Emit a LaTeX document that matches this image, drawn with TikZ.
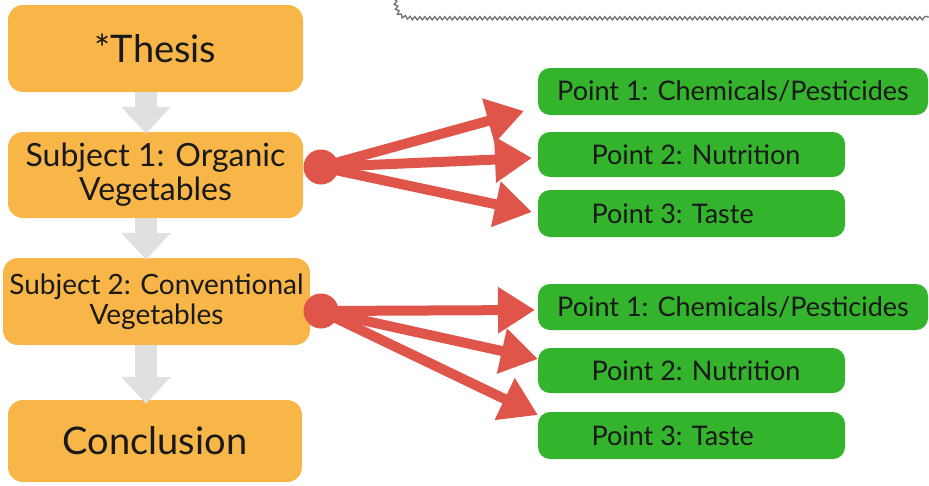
\documentclass[tikz,border=0pt]{standalone}
\usepackage{fontspec}
\setmainfont{Lato}
\usetikzlibrary{arrows.meta,decorations.pathmorphing}
\definecolor{orng}{HTML}{F9B648}
\definecolor{grn}{HTML}{34B32C}
\definecolor{rd}{HTML}{E0554A}
\definecolor{gry}{HTML}{E0E0E0}
\definecolor{wave}{HTML}{707070}
\newcommand{\lefttxt}[1]{\makebox[200pt][l]{#1}}
\tikzset{
  obox/.style={fill=orng, rounded corners=15pt, align=center, inner sep=0pt, text=black!90},
  gbox/.style={fill=grn, rounded corners=12pt, align=center, inner sep=0pt, text=black!90, font=\fontsize{27}{30}\selectfont},
  flow/.style={draw=gry, line width=22pt, -{Triangle[length=27pt,width=48pt]}},
  dotc/.style={circle, fill=rd, minimum size=35pt, inner sep=0pt},
  rarr/.style={draw=rd, line width=10pt, -{Triangle[length=37pt,width=44pt]}},
}
\begin{document}
\begin{tikzpicture}[x=1pt,y=-1pt]
\useasboundingbox (0,0) rectangle (929,485);
\draw[wave, line width=1.3pt, decorate, decoration={snake, amplitude=1.6pt, segment length=5pt}]
  (395,0) .. controls (398,15) .. (412,17) -- (929,17);
% orange boxes
\node[obox, minimum width=295pt, minimum height=87pt, font=\fontsize{38}{42}\selectfont] (th) at (155.5,48.5) {*Thesis};
\node[obox, minimum width=295pt, minimum height=86pt, font=\fontsize{32}{34}\selectfont] (s1) at (155.5,175) {Subject 1: Organic\\Vegetables};
\node[obox, minimum width=307pt, minimum height=87pt, font=\fontsize{28}{30}\selectfont] (s2) at (156.5,301.5) {Subject 2: Conventional\\Vegetables};
\node[obox, minimum width=294pt, minimum height=82pt, font=\fontsize{38}{42}\selectfont] (co) at (155,441) {Conclusion};
% gray arrows
\draw[flow] ([xshift=-9.5pt]th.south) -- ([xshift=-9.5pt,yshift=-2pt]s1.north);
\draw[flow] ([xshift=-9.5pt]s1.south) -- ([xshift=-10.5pt,yshift=-2pt]s2.north);
\draw[flow] ([xshift=-10.5pt]s2.south) -- ([xshift=-9pt,yshift=-4pt]co.north);
% green boxes
\node[gbox, minimum width=390pt, minimum height=47pt] (a1) at (733,91.5) {Point 1: Chemicals/Pesticides};
\node[gbox, minimum width=307pt, minimum height=45pt] (a2) at (691.5,154.5) {\lefttxt{Point 2: Nutrition}};
\node[gbox, minimum width=307pt, minimum height=47pt] (a3) at (691.5,213.5) {\lefttxt{Point 3: Taste}};
\node[gbox, minimum width=390pt, minimum height=46pt] (b1) at (733,307) {Point 1: Chemicals/Pesticides};
\node[gbox, minimum width=307pt, minimum height=45pt] (b2) at (691.5,370.5) {\lefttxt{Point 2: Nutrition}};
\node[gbox, minimum width=307pt, minimum height=47pt] (b3) at (691.5,435.5) {\lefttxt{Point 3: Taste}};
% tips
\coordinate (ta1) at (524,111);
\coordinate (ta2) at (532,158);
\coordinate (ta3) at (532,212);
\coordinate (tb1) at (535,310);
\coordinate (tb2) at (538,359);
\coordinate (tb3) at (538,415);
% red
\node[dotc] (c1) at (321,167) {};
\node[dotc] (c2) at (321,311) {};
\draw[rarr] (c1.center) -- (ta1);
\draw[rarr] (c1.center) -- (ta2);
\draw[rarr] (c1.center) -- (ta3);
\draw[rarr] (c2.center) -- (tb1);
\draw[rarr] (c2.center) -- (tb2);
\draw[rarr] (c2.center) -- (tb3);
\end{tikzpicture}
\end{document}
